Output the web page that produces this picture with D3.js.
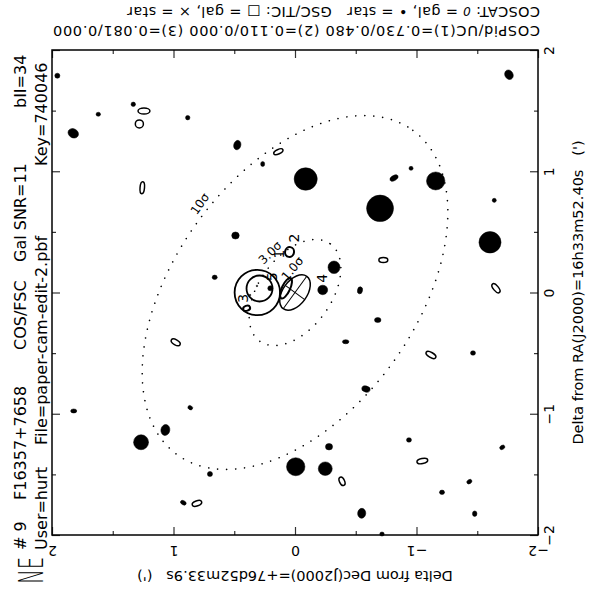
<!DOCTYPE html>
<html><head><meta charset="utf-8">
<script src="https://cdn.jsdelivr.net/npm/d3@7"></script>
<style>
html,body{margin:0;padding:0;background:#fff;}
svg{display:block;}
text{font-family:"DejaVu Sans","Liberation Sans",sans-serif;fill:#000;}
</style></head><body>
<svg id="chart" width="594" height="595"></svg>
<script>
// Offsets from the field centre in arcminutes; sizes in arcseconds.
// Each row: [dDec, dRA, major, minor, angle of major axis (deg, counter-clockwise on the plot)]
const stars = [
  [1.956, 1.788, 2.5, 2.5, 0], [-1.761, 1.796, 4.9, 4.0, -60], [1.331, 1.552, 2.2, 2.2, 0],
  [1.619, 1.470, 2.2, 2.0, 0], [0.883, 1.442, 2.2, 2.2, 0], [1.825, 1.313, 5.4, 4.4, -30],
  [0.475, 1.216, 4.7, 3.5, 75], [0.266, 1.060, 2.5, 2.0, 90], [-0.955, 1.024, 2.0, 2.0, 0],
  [-0.815, 0.944, 4.4, 2.5, 30], [-0.088, 0.936, 11.4, 11.1, 0], [-1.158, 0.920, 9.1, 8.9, 0],
  [-0.700, 0.694, 13.3, 13.1, 0], [-1.640, 0.760, 2.0, 2.0, 0], [-1.605, 0.414, 10.9, 10.6, 0],
  [0.490, 0.470, 3.7, 3.5, 0], [-0.321, 0.208, 6.2, 5.9, 90], [0.661, 0.125, 2.5, 2.2, 0],
  [-0.228, 0.021, 4.9, 4.7, 0], [0.203, 0.035, 2.5, 2.5, 0], [-0.535, 0.018, 3.5, 2.5, 80],
  [-0.681, -0.227, 3.2, 2.5, 0], [-0.417, -0.406, 3.2, 2.0, 0], [-1.465, -0.499, 2.5, 2.2, 0],
  [-0.584, -0.796, 4.2, 3.0, -15], [1.821, -0.977, 3.0, 2.0, 0], [0.862, -0.950, 2.5, 2.0, -30],
  [1.067, -1.134, 5.4, 4.4, 80], [1.267, -1.235, 7.4, 7.4, 0], [-0.280, -1.272, 3.5, 3.2, 0],
  [-0.938, -1.216, 2.5, 2.2, 0], [-1.706, -1.277, 2.7, 2.0, 30], [-0.006, -1.437, 9.1, 8.9, 0],
  [-0.249, -1.453, 6.9, 6.7, 0], [0.700, -1.497, 2.5, 2.5, 0], [-1.435, -1.560, 2.7, 2.0, 30],
  [-1.210, -1.648, 2.5, 2.2, 0], [0.919, -1.734, 3.0, 2.0, -30], [-0.549, -1.821, 4.9, 4.0, 85],
  [-1.479, -1.824, 2.7, 2.2, 90], [-0.716, -1.992, 2.2, 2.0, 0],
  [0.313, 0.054, 0.8, 0.8, 0], [0.370, -0.021, 0.8, 0.8, 0]
];
const galaxies = [
  [1.243, 1.497, 5.9, 3.0, 0], [1.281, 1.390, 4.0, 4.0, 0], [0.137, 1.161, 4.9, 2.2, 25],
  [1.257, 0.864, 5.9, 2.2, 85], [-0.727, 0.268, 4.4, 2.5, 0], [-1.654, 0.035, 5.4, 2.5, -50],
  [0.982, -0.411, 4.9, 2.5, -30], [-1.119, -0.515, 5.4, 2.5, -30], [-1.048, -1.390, 5.4, 2.5, 12],
  [-0.387, -1.557, 4.4, 2.5, -65], [0.807, -1.739, 4.9, 2.5, 20]
];
// Candidate counterparts near the centre (drawn with heavier outlines)
const candidates = [
  [0.045, 0.334, 4.9, 4.4, 80], [0.398, -0.130, 3.5, 2.5, 20], [0.074, 0.035, 11.0, 4.0, 65]
];
// Positional circles: [dDec, dRA, radius (arcmin)]
const circles = [[0.310, 0.000, 0.187], [0.292, 0.033, 0.107]];
// Source error ellipse (1 sigma semi-axes, arcmin) and contour levels
const errMajor = 0.165, errMinor = 0.099, errAngle = 54;
const sigmaLevels = [1, 3, 10];
const sigmaText = ["1.0σ", "3.0σ", "10σ"];
const sigmaLabelDir = [96, 122, 137];
const sigmaLabelRot = [-50, -45, -55];
// Source numbers: [label, dDec, dRA]
const sourceLabels = [["1", 0.132, 0.318], ["2", 0.008, 0.449], ["3", 0.426, -0.048],
                      ["4", -0.220, 0.117], ["5", 0.192, 0.130]];
const majorTicks = [-2, -1, 0, 1, 2];
const minorTicks = [-1.5, -0.5, 0.5, 1.5];

const svg = d3.select("#chart");
const x = d3.scaleLinear().domain([2, -2]).range([52, 538]);
const y = d3.scaleLinear().domain([2, -2]).range([50, 535]);
const k = Math.abs(x(1) - x(0));           // pixels per arcminute
const as = v => v / 60 * k;               // arcseconds to pixels

// frame and ticks
function tickAxis(axisFn, scale, vals, len, tx, ty, labels) {
  const g = svg.append("g").attr("transform", `translate(${tx},${ty})`)
    .call(axisFn(scale).tickValues(vals).tickSizeInner(-len).tickSizeOuter(0)
      .tickPadding(0).tickFormat(labels ? d3.format("d") : ""));
  g.select(".domain").remove();
  g.selectAll(".tick line").attr("stroke", "#333").attr("stroke-width", 1.2);
  return g;
}
["B", "T", "L", "R"].forEach(s => {
  const fn = {B: d3.axisBottom, T: d3.axisTop, L: d3.axisLeft, R: d3.axisRight}[s];
  const sc = (s === "B" || s === "T") ? x : y;
  const tx = s === "L" ? 52 : s === "R" ? 538 : 0;
  const ty = s === "T" ? 50 : s === "B" ? 535 : 0;
  tickAxis(fn, sc, minorTicks, 4, tx, ty, false);
  const g = tickAxis(fn, sc, majorTicks, 8, tx, ty, s === "B" || s === "R");
  if (s === "B") g.selectAll("text").attr("y", null).attr("dy", null)
      .attr("dominant-baseline", "central").attr("text-anchor", "middle")
      .attr("font-size", 14).attr("transform", "translate(0,16) rotate(180)");
  if (s === "R") g.selectAll("text").attr("x", null).attr("dy", null)
      .attr("dominant-baseline", "central").attr("text-anchor", "middle")
      .attr("font-size", 14).attr("transform", "translate(11,0) rotate(-90)");
  g.selectAll("text").attr("fill", "#000").attr("font-family", "DejaVu Sans");
});
svg.append("rect").attr("x", x(2)).attr("y", y(2))
  .attr("width", x(-2) - x(2)).attr("height", y(-2) - y(2))
  .attr("fill", "none").attr("stroke", "#000").attr("stroke-width", 1.5);

const plot = svg.append("g");
function ellipses(data, filled, sw) {
  plot.selectAll(null).data(data).enter().append("ellipse")
    .attr("cx", d => x(d[0])).attr("cy", d => y(d[1]))
    .attr("rx", d => as(d[2]) / 2).attr("ry", d => as(d[3]) / 2)
    .attr("transform", d => `rotate(${-d[4]},${x(d[0])},${y(d[1])})`)
    .attr("fill", filled ? "#000" : "none")
    .attr("stroke", "#000").attr("stroke-width", sw);
}
ellipses(stars, true, 0.5);
ellipses(galaxies, false, 1.5);
ellipses(candidates, false, 2);

plot.selectAll(null).data(circles).enter().append("circle")
  .attr("cx", d => x(d[0])).attr("cy", d => y(d[1])).attr("r", d => d[2] * k)
  .attr("fill", "none").attr("stroke", "#000").attr("stroke-width", 1.8);

// error contours centred on the field centre
const cx0 = x(0), cy0 = y(0);
sigmaLevels.forEach((s, i) => {
  const a = errMajor * s * k, b = errMinor * s * k;
  const e = plot.append("g").attr("transform", `translate(${cx0},${cy0}) rotate(${-errAngle})`);
  e.append("ellipse").attr("rx", a).attr("ry", b).attr("fill", "none")
    .attr("stroke", "#000")
    .attr("stroke-width", s === 1 ? 1.5 : 1.6)
    .attr("stroke-dasharray", s === 1 ? null : "0 9")
    .attr("stroke-linecap", "round");
  if (s === 1) {
    e.append("line").attr("x1", -a).attr("x2", a).attr("stroke", "#000").attr("stroke-width", 1);
    e.append("line").attr("y1", -b).attr("y2", b).attr("stroke", "#000").attr("stroke-width", 1);
  }
  // label just outside the contour
  const phi = sigmaLabelDir[i] * Math.PI / 180, rel = phi - errAngle * Math.PI / 180;
  const r = a * b / Math.sqrt((b * Math.cos(rel)) ** 2 + (a * Math.sin(rel)) ** 2) + 9;
  plot.append("text").text(sigmaText[i])
    .attr("font-size", 12).attr("text-anchor", "middle").attr("dominant-baseline", "central")
    .attr("transform", `translate(${cx0 + r * Math.cos(phi)},${cy0 - r * Math.sin(phi)}) rotate(${sigmaLabelRot[i]})`);
});

plot.selectAll(null).data(sourceLabels).enter().append("text")
  .text(d => d[0]).attr("font-size", 14).attr("text-anchor", "middle")
  .attr("dominant-baseline", "central")
  .attr("transform", d => `translate(${x(d[1])},${y(d[2])}) rotate(-90)`);

// header text (plot is stored rotated)
const top1 = "COSPid/UC(1)=0.730/0.480 (2)=0.110/0.000 (3)=0.081/0.000";
svg.append("text").text(top1).attr("font-size", 14.5).attr("xml:space", "preserve")
  .attr("textLength", 487).attr("transform", "translate(540,26) rotate(180)");
const t2 = svg.append("text").attr("font-size", 14.5).attr("xml:space", "preserve")
  .attr("textLength", 413).attr("transform", "translate(540,7) rotate(180)");
t2.append("tspan").text("COSCAT: ");
t2.append("tspan").text("0").attr("font-style", "italic").attr("font-size", 12);
t2.append("tspan").text(" = gal, \u2022 = star   GSC/TIC: ");
t2.append("tspan").text("\u25a1\ufe0e").attr("font-family", "DejaVu Sans").attr("fill", "#000");
t2.append("tspan").text(" = gal, \u00d7 = star");

const left1 = [["# 9", 550], ["F16357+7658", 500], ["COS/FSC", 350], ["Gal SNR=11", 262], ["bII=34", 108]];
const left2 = [["User=hurt", 550], ["File=paper-cam-edit-2.pbf", 445], ["Key=740046", 166]];
left1.forEach(([t, p]) => svg.append("text").text(t).attr("font-size", 16)
  .attr("transform", `translate(26,${p}) rotate(-90)`));
left2.forEach(([t, p]) => svg.append("text").text(t).attr("font-size", 16)
  .attr("transform", `translate(47,${p}) rotate(-90)`));

svg.append("text").text("Delta from Dec(J2000)=+76d52m33.9s   (')").attr("xml:space", "preserve")
  .attr("font-size", 14.5).attr("text-anchor", "middle")
  .attr("transform", "translate(295,571) rotate(180)");
svg.append("text").text("Delta from RA(J2000)=16h33m52.40s   (')").attr("xml:space", "preserve")
  .attr("font-size", 14.5).attr("text-anchor", "middle")
  .attr("transform", "translate(583,292.5) rotate(-90)");

svg.append("text").text("NE").attr("font-family", "Lato").attr("font-weight", 300)
  .attr("font-size", 33).attr("fill", "#222")
  .attr("transform", "translate(43,584) rotate(-90) scale(0.6,1)");
</script>
</body></html>
